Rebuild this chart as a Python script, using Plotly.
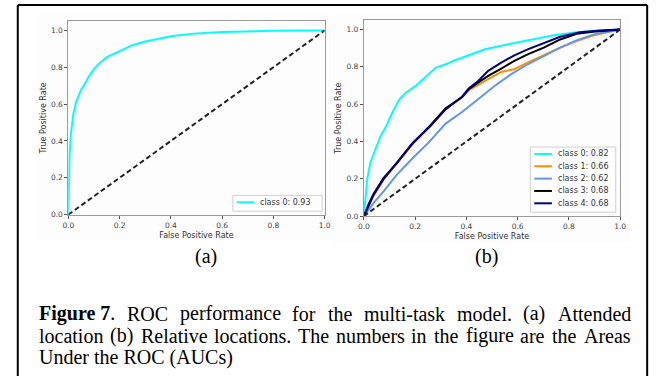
import plotly.graph_objects as go

# ---------------- data ----------------
fpr_a = [0, 0.002, 0.005, 0.01, 0.015, 0.02, 0.03, 0.04, 0.05, 0.06, 0.08, 0.10, 0.12, 0.15,
         0.18, 0.20, 0.25, 0.30, 0.35, 0.40, 0.45, 0.50, 0.60, 0.70, 0.80, 0.90, 1.0]
tpr_a = [0, 0.20, 0.33, 0.44, 0.50, 0.55, 0.61, 0.65, 0.68, 0.70, 0.75, 0.79, 0.82, 0.855,
         0.875, 0.89, 0.92, 0.94, 0.955, 0.968, 0.977, 0.984, 0.992, 0.996, 0.998, 0.999, 1.0]
labels_a = ["class 0"]
auc_a = [0.93]

fpr_b0 = [0, 0.006, 0.013, 0.026, 0.045, 0.064, 0.089, 0.115, 0.14, 0.166, 0.204, 0.243,
          0.281, 0.319, 0.358, 0.409, 0.473, 0.549, 0.639, 0.741, 0.83, 0.92, 1.0]
tpr_b0 = [0, 0.115, 0.20, 0.29, 0.36, 0.425, 0.487, 0.566, 0.628, 0.664, 0.70, 0.749,
          0.796, 0.814, 0.837, 0.862, 0.894, 0.917, 0.943, 0.97, 0.986, 0.995, 1.0]
fpr_b1 = [0, 0.02, 0.038, 0.077, 0.128, 0.19, 0.255, 0.319, 0.383, 0.409, 0.447, 0.485,
          0.536, 0.587, 0.639, 0.702, 0.766, 0.83, 0.894, 0.957, 1.0]
tpr_b1 = [0, 0.06, 0.11, 0.195, 0.28, 0.385, 0.478, 0.575, 0.64, 0.675, 0.703, 0.735,
          0.773, 0.788, 0.823, 0.862, 0.903, 0.938, 0.968, 0.988, 1.0]
fpr_b2 = [0, 0.038, 0.077, 0.128, 0.19, 0.255, 0.319, 0.383, 0.447, 0.511, 0.575, 0.639,
          0.702, 0.766, 0.83, 0.894, 1.0]
tpr_b2 = [0, 0.071, 0.133, 0.221, 0.31, 0.398, 0.496, 0.558, 0.628, 0.699, 0.761, 0.814,
          0.858, 0.903, 0.942, 0.973, 1.0]
fpr_b3 = [0, 0.02, 0.038, 0.077, 0.128, 0.19, 0.255, 0.319, 0.383, 0.409, 0.447, 0.485,
          0.536, 0.587, 0.639, 0.702, 0.766, 0.83, 0.894, 1.0]
tpr_b3 = [0, 0.065, 0.115, 0.2, 0.285, 0.39, 0.48, 0.578, 0.637, 0.68, 0.717, 0.752,
          0.791, 0.832, 0.867, 0.903, 0.947, 0.977, 0.988, 1.0]
fpr_b4 = [0, 0.02, 0.038, 0.077, 0.128, 0.19, 0.255, 0.319, 0.383, 0.409, 0.447, 0.485,
          0.536, 0.587, 0.639, 0.702, 0.766, 0.843, 0.92, 1.0]
tpr_b4 = [0, 0.07, 0.12, 0.205, 0.283, 0.392, 0.476, 0.572, 0.64, 0.684, 0.726, 0.779,
          0.823, 0.862, 0.894, 0.929, 0.961, 0.986, 0.995, 1.0]
labels_b = ["class 0", "class 1", "class 2", "class 3", "class 4"]
auc_b = [0.82, 0.66, 0.62, 0.68, 0.68]

chance_x = [0, 1]
chance_y = [0, 1]
tick_vals = [0.0, 0.2, 0.4, 0.6, 0.8, 1.0]
sub_labels = ["(a)", "(b)"]
caption_line1 = ["Figure 7.", "ROC", "performance", "for", "the", "multi-task", "model.", "(a)", "Attended"]
caption_line2 = ["location", "(b)", "Relative", "locations.", "The", "numbers", "in", "the",
                 "figure", "are", "the", "Areas"]
caption_line3 = "Under the ROC (AUCs)"

# ---------------- styling ----------------
W, H = 662, 381
colors_b = ["#00ffff", "#ff8c00", "#6495ed", "#000000", "#000080"]
color_a = "#00ffff"


def px(x):
    return x / W


def py(y):
    return 1 - y / H


fig = go.Figure()

fig.add_trace(go.Scatter(x=fpr_a, y=tpr_a, mode="lines", line=dict(color=color_a, width=2),
                         xaxis="x", yaxis="y", showlegend=False))
fig.add_trace(go.Scatter(x=chance_x, y=chance_y, mode="lines",
                         line=dict(color="#222", width=2, dash="5px,3px"),
                         xaxis="x", yaxis="y", showlegend=False))

series_b = [(fpr_b0, tpr_b0), (fpr_b1, tpr_b1), (fpr_b2, tpr_b2), (fpr_b3, tpr_b3), (fpr_b4, tpr_b4)]
for (fx, ty), c in zip(series_b, colors_b):
    fig.add_trace(go.Scatter(x=fx, y=ty, mode="lines", line=dict(color=c, width=2),
                             xaxis="x2", yaxis="y2", showlegend=False))
fig.add_trace(go.Scatter(x=chance_x, y=chance_y, mode="lines",
                         line=dict(color="#222", width=2, dash="5px,3px"),
                         xaxis="x2", yaxis="y2", showlegend=False))

tickfont = dict(family="DejaVu Sans", size=7.5, color="#444")
titlefont = dict(family="DejaVu Sans", size=8, color="#333")
common_x = dict(range=[0, 1], tickvals=tick_vals, tickformat=".1f", ticks="outside", ticklen=3,
                tickcolor="#555", showline=True, mirror=True, linecolor="#9a9a9a", linewidth=1,
                showgrid=False, zeroline=False, tickfont=tickfont, fixedrange=True)
common_y = dict(range=[0, 1.05], tickvals=tick_vals, tickformat=".1f", ticks="outside", ticklen=3,
                tickcolor="#555", showline=True, mirror=True, linecolor="#9a9a9a", linewidth=1,
                showgrid=False, zeroline=False, tickfont=tickfont, fixedrange=True)

fig.update_layout(
    width=W, height=H, margin=dict(l=0, r=0, t=0, b=0),
    paper_bgcolor="white", plot_bgcolor="white", showlegend=False,
    xaxis=dict(domain=[px(63.5), px(324.5)], anchor="y",
               title=dict(text="False Positive Rate", font=titlefont, standoff=3), **common_x),
    yaxis=dict(domain=[py(217.5), py(21.5)], anchor="x",
               title=dict(text="True Positive Rate", font=titlefont, standoff=3), **common_y),
    xaxis2=dict(domain=[px(364.5), px(625.5)], anchor="y2",
                title=dict(text="False Positive Rate", font=titlefont, standoff=3), **common_x),
    yaxis2=dict(domain=[py(219), py(20.5)], anchor="x2",
                title=dict(text="True Positive Rate", font=titlefont, standoff=3), **common_y),
)

shapes = []
annotations = []

# faint backgrounds of the two embedded figure images
for (x0, y0, x1, y1) in [(32, 15, 331, 243), (333, 13, 636, 246)]:
    shapes.append(dict(type="rect", xref="paper", yref="paper", x0=px(x0), y0=py(y0),
                       x1=px(x1), y1=py(y1), fillcolor="#fdfdfd", line=dict(width=0),
                       layer="below"))

# outer frame (open at bottom)
for (x0, y0, x1, y1) in [(12, 5, 12, 381), (12, 5, 653, 5), (653, 5, 653, 381)]:
    shapes.append(dict(type="line", xref="paper", yref="paper", x0=px(x0), y0=py(y0),
                       x1=px(x1), y1=py(y1), line=dict(color="black", width=2)))


def legend_box(x0, x1, y0, rows, labels, aucs, colors):
    step = 12.5
    y1 = y0 + 8 + step * (rows - 1) + 8
    shapes.append(dict(type="rect", xref="paper", yref="paper", x0=px(x0), x1=px(x1),
                       y0=py(y0), y1=py(y1), fillcolor="white",
                       line=dict(color="#cfcfcf", width=1)))
    for i, (lab, auc, c) in enumerate(zip(labels, aucs, colors)):
        yy = y0 + 7 + step * i
        shapes.append(dict(type="line", xref="paper", yref="paper", x0=px(x0 + 4), x1=px(x0 + 22),
                           y0=py(yy), y1=py(yy), line=dict(color=c, width=2)))
        annotations.append(dict(xref="paper", yref="paper", x=px(x0 + 26), y=py(yy),
                                xanchor="left", yanchor="middle", showarrow=False,
                                text=f"{lab}: {auc:.2f}",
                                font=dict(family="DejaVu Sans", size=8, color="#333")))


legend_box(231, 322, 198, 1, labels_a, auc_a, [color_a])
legend_box(534, 621, 149, 5, labels_b, auc_b, colors_b)

serif = "Liberation Serif"
FS = 20
annotations.append(dict(xref="paper", yref="paper", x=px(190), y=py(274), text=sub_labels[0],
                        showarrow=False, font=dict(family=serif, size=FS, color="black")))
annotations.append(dict(xref="paper", yref="paper", x=px(503), y=py(274), text=sub_labels[1],
                        showarrow=False, font=dict(family=serif, size=FS, color="black")))

# Times metrics (1/1000 em) for justified caption lines
TW = {' ': 250, 'a': 444, 'b': 500, 'c': 444, 'd': 500, 'e': 444, 'f': 333, 'g': 500, 'h': 500,
      'i': 278, 'j': 278, 'k': 500, 'l': 278, 'm': 778, 'n': 500, 'o': 500, 'p': 500, 'q': 500,
      'r': 333, 's': 389, 't': 278, 'u': 500, 'v': 500, 'w': 722, 'x': 500, 'y': 500, 'z': 444,
      'A': 722, 'B': 667, 'C': 667, 'D': 722, 'E': 611, 'F': 556, 'O': 722, 'R': 667, 'T': 611,
      'U': 722, '.': 250, ',': 250, '(': 333, ')': 333, '-': 333, ':': 278, '7': 500}
TWB = {'F': 611, 'i': 278, 'g': 500, 'u': 556, 'r': 444, 'e': 444, ' ': 250, '7': 500}


def tw(s, bold=False):
    tab = TWB if bold else TW
    return sum(tab.get(ch, TW.get(ch, 500)) for ch in s) * FS / 1000.0


def justified(words, y, left=33, right=634):
    widths = []
    texts = []
    for w in words:
        if w.startswith("Figure"):
            widths.append(tw("Figure 7", True) + tw("."))
            texts.append("<b>Figure 7</b>.")
        else:
            widths.append(tw(w))
            texts.append(w)
    gap = (right - left - sum(widths)) / (len(words) - 1)
    x = left
    for t, wd in zip(texts, widths):
        annotations.append(dict(xref="paper", yref="paper", x=px(x - 1), y=py(y), text=t,
                                xanchor="left", yanchor="middle", showarrow=False,
                                font=dict(family=serif, size=FS, color="black")))
        x += wd + gap


justified(caption_line1, 318)
justified(caption_line2, 340)
annotations.append(dict(xref="paper", yref="paper", x=px(32), y=py(362), text=caption_line3,
                        xanchor="left", yanchor="middle", showarrow=False,
                        font=dict(family=serif, size=FS, color="black")))

fig.update_layout(shapes=shapes, annotations=annotations)
fig.write_html("out.html")
